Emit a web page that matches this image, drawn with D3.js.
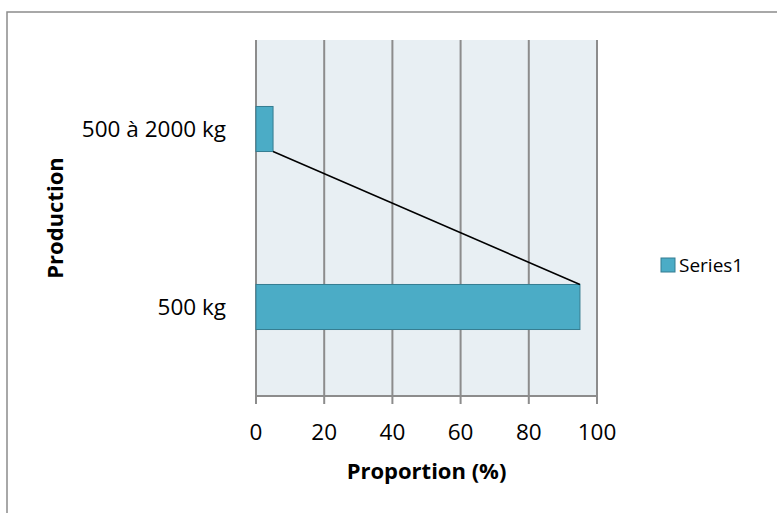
<!DOCTYPE html>
<html><head><meta charset="utf-8">
<script src="https://cdn.jsdelivr.net/npm/d3@7"></script>
<style>body{margin:0;background:#fff}svg{display:block}text{font-family:"Open Sans",sans-serif;fill:#000}</style>
</head><body>
<svg id="c" width="777" height="513"></svg>
<script>
const categories = ["500 à 2000 kg", "500 kg"];
const values = [5, 95];
const xTicks = [0, 20, 40, 60, 80, 100];
const seriesName = "Series1";
const xTitle = "Proportion (%)";
const yTitle = "Production";

const svg = d3.select("#c");
// outer chart border
svg.append("rect").attr("x",7).attr("y",12).attr("width",800).attr("height",520)
  .attr("fill","#fff").attr("stroke","#8c8c8c").attr("stroke-width",1.5);

const L=256, R=597, T=40, B=396;
const x = d3.scaleLinear().domain([0,100]).range([L,R]);
const y = d3.scaleBand().domain(categories).range([T,B]).paddingInner(0.747).paddingOuter(0.3735);

svg.append("rect").attr("x",L).attr("y",T).attr("width",R-L).attr("height",B-T).attr("fill","#e8eff3");

// gridlines + tick marks
svg.append("g").selectAll("line").data(xTicks).join("line")
  .attr("x1",d=>x(d)).attr("x2",d=>x(d)).attr("y1",T).attr("y2",B+8)
  .attr("stroke","#8c8c8c").attr("stroke-width",2);
svg.append("line").attr("x1",L).attr("x2",R).attr("y1",B).attr("y2",B).attr("stroke","#8c8c8c").attr("stroke-width",2);

// bars
svg.append("g").selectAll("rect").data(values).join("rect")
  .attr("x",x(0)).attr("y",(d,i)=>y(categories[i]))
  .attr("width",d=>x(d)-x(0)).attr("height",y.bandwidth())
  .attr("fill","#4bacc6").attr("stroke","#357d91").attr("stroke-width",1);

// series line
for(let i=0;i<values.length-1;i++){
  svg.append("line")
    .attr("x1",x(values[i])).attr("y1",y(categories[i])+y.bandwidth())
    .attr("x2",x(values[i+1])).attr("y2",y(categories[i+1]))
    .attr("stroke","#000").attr("stroke-width",1.5);
}

// x tick labels
svg.append("g").selectAll("text").data(xTicks).join("text")
  .attr("x",d=>x(d)).attr("y",440).attr("text-anchor","middle")
  .style("font-size","22.5px").text(d=>d);

// y labels
svg.append("g").selectAll("text").data(categories).join("text")
  .attr("x",L-30).attr("y",d=>y(d)+y.bandwidth()/2+8).attr("text-anchor","end")
  .style("font-size","22.5px").text(d=>d);

// axis titles
svg.append("text").attr("x",(L+R)/2).attr("y",479).attr("text-anchor","middle")
  .style("font-size","22px").style("font-weight","bold").text(xTitle);
svg.append("text").attr("transform",`translate(63,${(T+B)/2}) rotate(-90)`).attr("text-anchor","middle")
  .style("font-size","22px").style("font-weight","bold").text(yTitle);

// legend
svg.append("rect").attr("x",661).attr("y",258).attr("width",14).attr("height",14)
  .attr("fill","#4bacc6").attr("stroke","#357d91").attr("stroke-width",1);
svg.append("text").attr("x",679).attr("y",272).style("font-size","19px").text(seriesName);
</script>
</body></html>
